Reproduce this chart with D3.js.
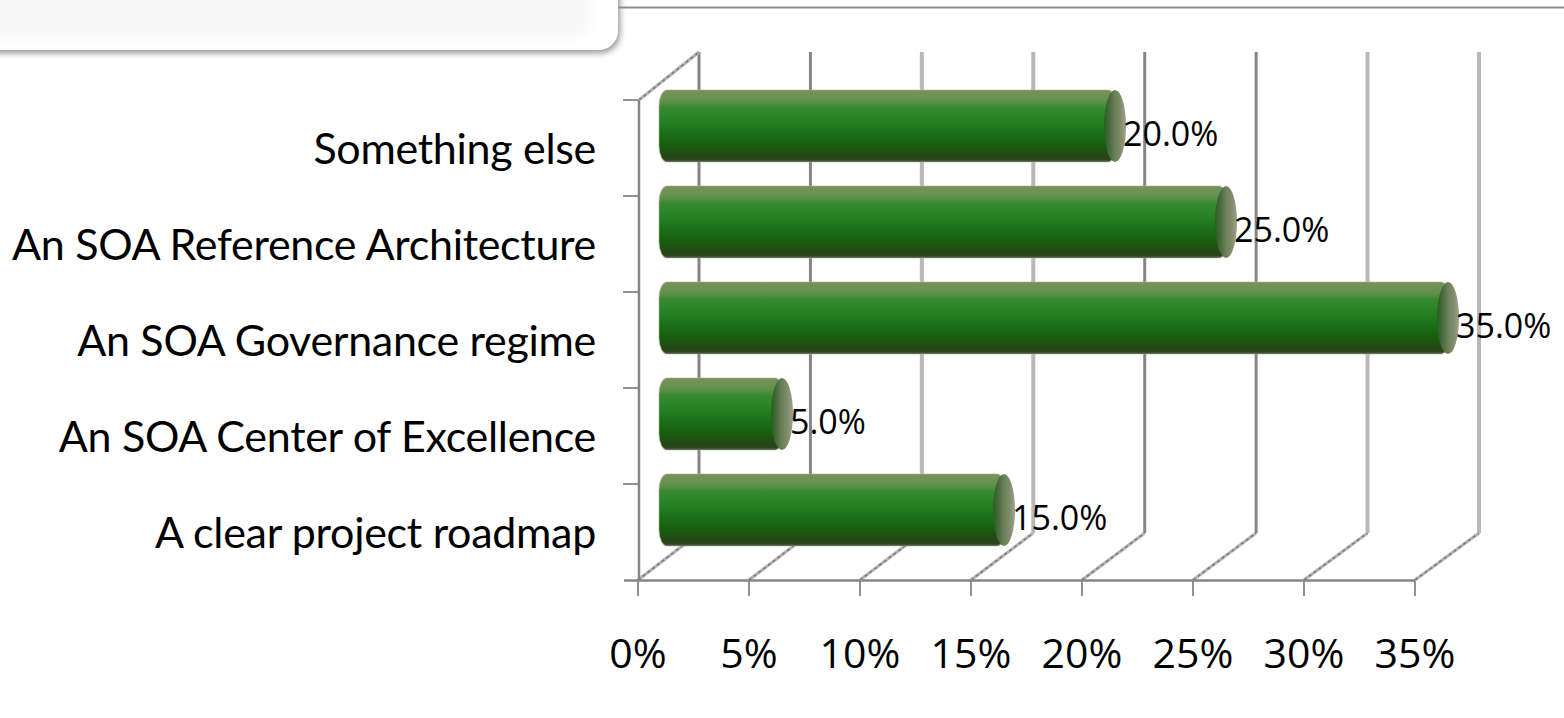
<!DOCTYPE html>
<html><head><meta charset="utf-8">
<script src="https://cdn.jsdelivr.net/npm/d3@7"></script>
<style>html,body{margin:0;padding:0;background:#fff;overflow:hidden}</style></head>
<body><svg id="c" width="1564" height="718"></svg>
<script>
const categories=["Something else","An SOA Reference Architecture","An SOA Governance regime","An SOA Center of Excellence","A clear project roadmap"];
const values=[20,25,35,5,15];
const tickValues=[0,5,10,15,20,25,30,35];
const lightGrid=[10,15,30,35];
const svg=d3.select("#c");
const W=1564;
const x=d3.scaleLinear().domain([0,35]).range([638,1415]);
const xBack=d3.scaleLinear().domain([0,35]).range([699,1479]);
const y=d3.scaleBand().domain(categories).range([100,580]);
const yBack=d3.scaleLinear().domain([100,580]).range([52,533]);
const defs=svg.append("defs");
function lg(id,dir,stops){const g=defs.append("linearGradient").attr("id",id).attr("x1",0).attr("y1",0).attr("x2",dir=="h"?1:0).attr("y2",dir=="h"?0:1);
 stops.forEach(s=>g.append("stop").attr("offset",s[0]).attr("stop-color",s[1]));}
lg("barG","v",[[0,"#828b5a"],[.05,"#72925a"],[.17,"#5f8f48"],[.24,"#368a30"],[.38,"#2a8428"],[.55,"#1f7419"],[.76,"#155f10"],[.86,"#204f15"],[.96,"#2a4219"],[1,"#4f6044"]]);
lg("capG","h",[[0,"#2a5e1e"],[.22,"#44683a"],[.5,"#6b8058"],[.75,"#808c6c"],[1,"#9aa48a"]]);
const f=defs.append("filter").attr("id","sh").attr("x","-5%").attr("y","-20%").attr("width","110%").attr("height","160%");
f.append("feDropShadow").attr("dx",2).attr("dy",3).attr("stdDeviation",3).attr("flood-color","#000").attr("flood-opacity",.42);
defs.append("filter").attr("id","soft").append("feGaussianBlur").attr("stdDeviation",5);

svg.append("rect").attr("x",-30).attr("y",-40).attr("width",648).attr("height",90).attr("rx",20).attr("fill","#fff").attr("filter","url(#sh)");
svg.append("rect").attr("x",-30).attr("y",-40).attr("width",620).attr("height",78).attr("rx",14).attr("fill","#f7f7f7").attr("filter","url(#soft)");
svg.append("line").attr("x1",618).attr("x2",W).attr("y1",7.5).attr("y2",7.5).attr("stroke","#8f8f8f").attr("stroke-width",2);

const g=svg.append("g");
const grey="#858585",lite="#b8b8b8",hatchLite="#b4b4b4",hatchDark="#7d7d7d";
function diag(sel){
 sel.append("line").attr("stroke",hatchLite).attr("stroke-width",3.2);
 sel.append("line").attr("stroke",hatchDark).attr("stroke-width",1.6).attr("stroke-dasharray","3 3");
}
const floor=g.selectAll(".d").data(tickValues).join("g").call(diag);
floor.selectAll("line").attr("x1",function(){return x(d3.select(this.parentNode).datum())})
 .attr("y1",580).attr("x2",function(){return xBack(d3.select(this.parentNode).datum())}).attr("y2",yBack(580));
g.selectAll(".v").data(tickValues).join("line")
 .attr("x1",d=>xBack(d)).attr("x2",d=>xBack(d)).attr("y1",yBack(100)).attr("y2",yBack(580))
 .attr("stroke",d=>lightGrid.includes(d)?lite:grey).attr("stroke-width",d=>lightGrid.includes(d)?4:3);
g.append("line").attr("x1",x(0)+1).attr("x2",x(0)+1).attr("y1",100).attr("y2",580).attr("stroke",grey).attr("stroke-width",2.5);
const side=g.append("g").call(diag);
side.selectAll("line").attr("x1",x(0)+1).attr("y1",100).attr("x2",xBack(0)).attr("y2",yBack(100));
g.append("line").attr("x1",x(0)-14).attr("x2",x(35)).attr("y1",580.5).attr("y2",580.5).attr("stroke",grey).attr("stroke-width",2.5);
g.selectAll(".t").data(tickValues).join("line")
 .attr("x1",d=>x(d)).attr("x2",d=>x(d)).attr("y1",581).attr("y2",596).attr("stroke",grey).attr("stroke-width",1.8);
g.selectAll(".ct").data(categories).join("line")
 .attr("x1",x(0)-15).attr("x2",x(0)).attr("y1",d=>y(d)).attr("y2",d=>y(d)).attr("stroke",grey).attr("stroke-width",1.8);

g.selectAll(".tl").data(tickValues).join("text")
 .attr("x",d=>x(d)).attr("y",668).attr("text-anchor","middle")
 .attr("font-family","'Open Sans'").attr("font-size",41).attr("fill","#000").text(d=>d+"%");
g.selectAll(".cl").data(categories).join("text")
 .attr("x",596).attr("y",d=>y(d)+y.bandwidth()/2+16).attr("text-anchor","end")
 .attr("font-family","Lato").attr("font-size",43).attr("letter-spacing",-0.3).attr("fill","#000").text(d=>d);

const bars=g.selectAll(".b").data(categories.map((c,i)=>({c,v:values[i]}))).join("g");
const barTop=d=>y(d.c)+y.bandwidth()/2-58, hgt=72;
bars.append("rect").attr("x",x(0)+21).attr("y",barTop).attr("width",d=>x(d.v)+34-(x(0)+21)).attr("height",hgt).attr("rx",8).attr("ry",16).attr("fill","url(#barG)");
bars.append("rect").attr("x",x(0)+21).attr("y",barTop).attr("width",d=>x(d.v)+34-(x(0)+21)).attr("height",hgt).attr("rx",8).attr("ry",16).attr("fill","none").attr("stroke","#a9b498").attr("stroke-opacity",.55).attr("stroke-width",1.2);
bars.append("ellipse").attr("cx",d=>x(d.v)+33).attr("cy",d=>barTop(d)+hgt/2).attr("rx",11).attr("ry",hgt/2).attr("fill","url(#capG)");
bars.append("text").attr("x",d=>x(d.v)+41).attr("y",d=>y(d.c)+y.bandwidth()/2-2)
 .attr("font-family","'Open Sans'").attr("font-size",34).attr("fill","#000").text(d=>d.v.toFixed(1)+"%");
</script></body></html>
